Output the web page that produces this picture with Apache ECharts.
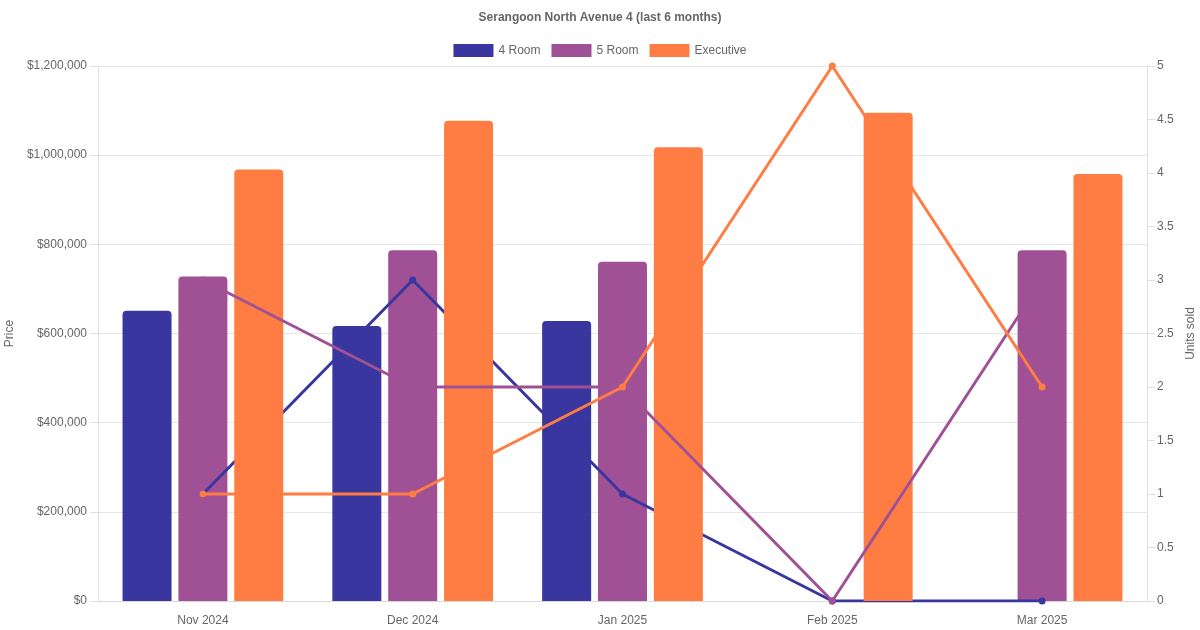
<!DOCTYPE html>
<html lang="en">
<head>
  <meta charset="UTF-8">
  <title>Serangoon North Avenue 4</title>
  <script src="https://cdn.jsdelivr.net/npm/echarts@6/dist/echarts.min.js"></script>
  <style>
    html, body { margin: 0; padding: 0; background: #fff; }
    #chart { width: 1200px; height: 630px; }
  </style>
</head>
<body>
  <div id="chart"></div>
<script>
  // data
  const months = ['Nov 2024', 'Dec 2024', 'Jan 2025', 'Feb 2025', 'Mar 2025'];
  const price4Room = [651000, 617000, 628000, null, null];
  const price5Room = [728000, 787000, 761000, null, 787000];
  const priceExec = [968000, 1077000, 1018000, 1095000, 958000];
  const units4Room = [1, 3, 1, 0, 0];
  const units5Room = [3, 2, 2, 0, 3];
  const unitsExec = [1, 1, 2, 5, 2];

  const colors = { r4: '#3936a0', r5: '#a05195', ex: '#ff7c43' };
  const font = 'Liberation Sans, Arial, sans-serif';
  const grey = '#666';

  const chart = echarts.init(document.getElementById('chart'));

  function barSeries(name, data, color, z) {
    return {
      name: name,
      type: 'bar',
      yAxisIndex: 0,
      data: data,
      z: z,
      barWidth: 49,
      barGap: '14%',
      itemStyle: { color: color, borderRadius: [4, 4, 0, 0] }
    };
  }

  function lineSeries(name, data, color, z) {
    return {
      name: name,
      type: 'line',
      yAxisIndex: 1,
      data: data,
      z: z,
      symbol: 'circle',
      symbolSize: 7,
      lineStyle: { color: color, width: 3 },
      itemStyle: { color: color }
    };
  }

  const option = {
    animation: false,
    textStyle: { fontFamily: font },
    title: {
      text: 'Serangoon North Avenue 4 (last 6 months)',
      left: 'center',
      top: 7,
      textStyle: { fontSize: 12, fontWeight: 'bold', color: grey, fontFamily: font }
    },
    legend: {
      top: 39,
      left: 'center',
      icon: 'rect',
      itemWidth: 40,
      itemHeight: 13,
      itemGap: 11,
      data: ['4 Room', '5 Room', 'Executive'],
      textStyle: { fontSize: 12, color: grey, fontFamily: font }
    },
    grid: { left: 98, right: 53, top: 66, bottom: 29, containLabel: false, outerBoundsMode: 'none' },
    xAxis: {
      type: 'category',
      data: months,
      axisLine: { lineStyle: { color: '#d9d9d9' } },
      axisTick: { show: false },
      axisLabel: { color: grey, fontSize: 12, margin: 14 },
      splitLine: { show: false }
    },
    yAxis: [
      {
        type: 'value',
        name: 'Price',
        nameLocation: 'middle',
        nameGap: 80,
        nameTextStyle: { color: grey, fontSize: 12 },
        min: 0,
        max: 1200000,
        interval: 200000,
        axisLine: { show: true, lineStyle: { color: '#e0e0e0' } },
        axisTick: { show: true, length: 8, lineStyle: { color: '#e0e0e0' } },
        axisLabel: {
          color: grey,
          fontSize: 12,
          margin: 11,
          formatter: v => '$' + v.toLocaleString('en-US')
        },
        splitLine: { lineStyle: { color: '#e6e6e6' } }
      },
      {
        type: 'value',
        name: 'Units sold',
        nameLocation: 'middle',
        nameGap: 35,
        nameTextStyle: { color: grey, fontSize: 12 },
        position: 'right',
        min: 0,
        max: 5,
        interval: 0.5,
        axisLine: { show: true, lineStyle: { color: '#e0e0e0' } },
        axisTick: { show: true, length: 8, lineStyle: { color: '#e0e0e0' } },
        axisLabel: { color: grey, fontSize: 12, margin: 10 },
        splitLine: { show: false }
      }
    ],
    series: [
      barSeries('4 Room', price4Room, colors.r4, 2),
      barSeries('5 Room', price5Room, colors.r5, 3),
      barSeries('Executive', priceExec, colors.ex, 5),
      lineSeries('4 Room units', units4Room, colors.r4, 4),
      lineSeries('5 Room units', units5Room, colors.r5, 6),
      lineSeries('Executive units', unitsExec, colors.ex, 7)
    ]
  };

  chart.setOption(option);
</script>
</body>
</html>
